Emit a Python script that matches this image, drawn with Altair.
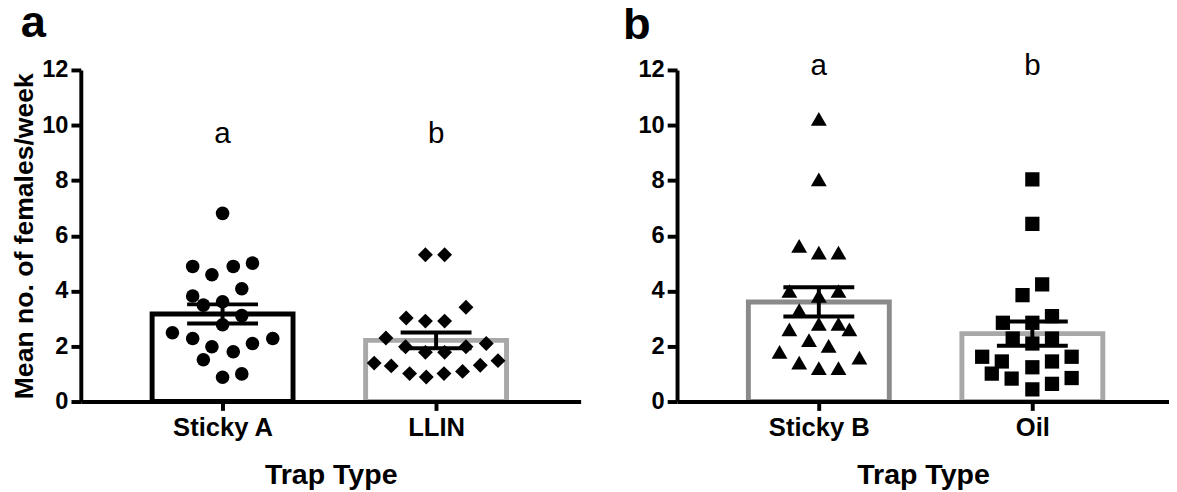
import altair as alt
import pandas as pd

FONT = "Liberation Sans"

# ---------------- data ----------------
panel_a_traps = ["Sticky A", "LLIN"]
panel_b_traps = ["Sticky B", "Oil"]

sticky_a = [6.81, 4.89, 4.59, 4.89, 5.01, 4.08, 3.82, 3.49, 3.61, 3.11,
            2.78, 2.49, 2.28, 1.98, 2.10, 2.28, 1.80, 1.51, 0.88, 1.00]
llin = [5.31, 5.31, 3.41, 3.02, 2.91, 2.91, 2.30, 1.98, 1.78, 1.78,
        1.98, 2.10, 1.39, 1.29, 1.01, 0.89, 1.01, 1.09, 1.31, 1.48]
sticky_b = [10.23, 8.04, 5.63, 5.39, 5.39, 4.00, 3.82, 4.00, 3.31, 2.61,
            2.81, 2.81, 2.61, 2.22, 2.01, 1.80, 1.41, 1.21, 1.21, 1.59]
oil = [8.04, 6.43, 4.24, 3.85, 2.85, 2.85, 3.09, 2.28, 2.10, 2.28,
       1.62, 1.45, 1.62, 1.24, 1.45, 1.01, 0.83, 0.85, 0.64, 0.44]

# horizontal scatter (beeswarm) offsets, in fractions of the category spacing
sticky_a_jitter = [0, -0.14, -0.05, 0.05, 0.14, 0.09, -0.14, -0.09, 0, 0.09,
                   0, -0.235, -0.14, -0.05, 0.14, 0.235, 0.05, -0.09, 0, 0.09]
llin_jitter = [-0.05, 0.04, 0.14, -0.14, -0.05, 0.04, -0.235, -0.143, -0.05, 0.04,
               0.14, 0.235, -0.29, -0.21, -0.124, -0.046, 0.037, 0.124, 0.207, 0.29]
sticky_b_jitter = [0, 0, -0.092, 0, 0.092, -0.138, 0, 0.092, -0.092, -0.138,
                   0, 0.092, 0.143, -0.046, 0.046, -0.184, -0.092, 0, 0.092, 0.19]
oil_jitter = [0, 0, 0.046, -0.046, -0.138, 0, 0.092, -0.092, 0, 0.092,
              -0.235, -0.143, 0.184, 0, 0.092, -0.19, -0.097, 0.184, 0.092, 0]

sig_letters_a = ["a", "b"]
sig_y_a = [9.34, 9.34]
sig_letters_b = ["a", "b"]
sig_y_b = [11.83, 11.83]

y_ticks = [0, 2, 4, 6, 8, 10, 12]


def make_df(traps, series, jitters):
    rows = []
    for i, (t, vals, jit) in enumerate(zip(traps, series, jitters)):
        for v, j in zip(vals, jit):
            rows.append({"trap": t, "idx": i, "value": v, "pos": i + j})
    return pd.DataFrame(rows)


def panel(df, traps, colors, shapes, sizes, letters, letter_y, panel_letter,
          letter_dx, letter_dy, xmax, width, ytitle):
    xs = alt.Scale(domain=[-0.664, xmax], nice=False, zero=False)
    ys = alt.Scale(domain=[0, 12], nice=False)
    label_expr = "datum.value == 0 ? '%s' : '%s'" % (traps[0], traps[1])
    xaxis = alt.Axis(values=[0, 1], labelExpr=label_expr, title="Trap Type",
                     grid=False, zindex=1, labelPadding=5, titlePadding=20,
                     tickSize=9)
    yaxis = alt.Axis(values=y_ticks, grid=False, zindex=1, title=ytitle,
                     labelPadding=3, tickSize=10, titlePadding=3)

    base = alt.Chart(df)
    agg = base.transform_aggregate(
        mean="mean(value)", se="stderr(value)", groupby=["trap", "idx"]
    ).transform_calculate(
        x1="datum.idx - 0.33", x2="datum.idx + 0.33",
        lo="datum.mean - datum.se", hi="datum.mean + datum.se",
        w1="datum.idx - 0.166", w2="datum.idx + 0.166", zero="0",
    )

    bars = agg.mark_rect(fillOpacity=0, strokeWidth=5, strokeJoin="miter").encode(
        x=alt.X("x1:Q", scale=xs, axis=xaxis),
        x2="x2:Q",
        y=alt.Y("mean:Q", scale=ys, axis=yaxis),
        y2="zero:Q",
        stroke=alt.Stroke("trap:N", scale=alt.Scale(domain=traps, range=colors), legend=None),
    )

    pts = base.mark_point(filled=True, opacity=1, color="black").encode(
        x=alt.X("pos:Q", scale=xs),
        y=alt.Y("value:Q", scale=ys),
        shape=alt.Shape("trap:N", scale=alt.Scale(domain=traps, range=shapes), legend=None),
        size=alt.Size("trap:N", scale=alt.Scale(domain=traps, range=sizes), legend=None),
    )

    stem = agg.mark_rule(color="black", strokeWidth=4).encode(
        x=alt.X("idx:Q", scale=xs), y=alt.Y("lo:Q", scale=ys), y2="hi:Q"
    )
    whisk = agg.transform_fold(["lo", "hi"], as_=["k", "yv"]).mark_rule(
        color="black", strokeWidth=4
    ).encode(
        x=alt.X("w1:Q", scale=xs), x2="w2:Q", y=alt.Y("yv:Q", scale=ys)
    )

    sig_df = pd.DataFrame({"idx": [0, 1], "letter": letters, "ly": letter_y})
    sig = alt.Chart(sig_df).mark_text(
        font=FONT, fontSize=30, color="black", baseline="alphabetic", align="center"
    ).encode(x=alt.X("idx:Q", scale=xs), y=alt.Y("ly:Q", scale=ys), text="letter:N")

    pl = alt.Chart(pd.DataFrame({"t": [panel_letter]})).mark_text(
        font=FONT, fontSize=46, fontWeight="bold", color="black",
        align="left", baseline="alphabetic"
    ).encode(x=alt.value(letter_dx), y=alt.value(letter_dy), text="t:N")

    return alt.layer(bars, pts, stem, whisk, sig, pl).properties(width=width, height=337)


df_a = make_df(panel_a_traps, [sticky_a, llin], [sticky_a_jitter, llin_jitter])
df_b = make_df(panel_b_traps, [sticky_b, oil], [sticky_b_jitter, oil_jitter])

pa = panel(df_a, panel_a_traps, ["#000000", "#a8a8a8"], ["circle", "diamond"], [190, 230],
           sig_letters_a, sig_y_a, "a", -61, -34, 1.677, 508, "Mean no. of females/week")
pb = panel(df_b, panel_b_traps, ["#8a8a8a", "#a8a8a8"], ["triangle-up", "square"], [260, 210],
           sig_letters_b, sig_y_b, "b", -55, -31, 1.640, 500, None)

chart = alt.hconcat(pa, pb, spacing=43).resolve_scale(
    stroke="independent", shape="independent", size="independent",
    x="independent", y="independent",
).configure_view(stroke=None).configure_axis(
    domainColor="black", domainWidth=4, tickColor="black", tickWidth=4,
    labelFont=FONT, labelFontWeight="bold", labelColor="black",
    titleFont=FONT, titleFontWeight="bold", titleColor="black",
).configure_axisX(
    labelFontSize=26, titleFontSize=29,
).configure_axisY(
    labelFontSize=24, titleFontSize=27,
).properties(padding={"top": -12, "left": 3, "right": 0, "bottom": 0})

chart.save("out.html", embed_options={"renderer": "svg", "actions": False})
